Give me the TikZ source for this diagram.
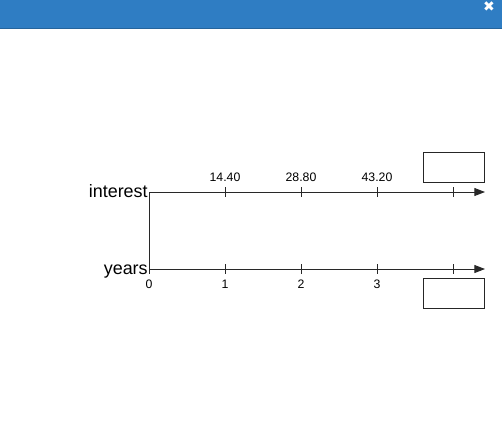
\documentclass[tikz,border=0pt]{standalone}
\usepackage{fontspec}
\setmainfont{Liberation Sans}
\newfontfamily\symfont{DejaVu Sans}
\usetikzlibrary{positioning,arrows.meta}

\definecolor{barblue}{RGB}{47,125,195}
\definecolor{axisgray}{RGB}{40,40,40}

\tikzset{
  axisline/.style={draw=axisgray, line width=0.55pt},
  tickmark/.style={draw=axisgray, line width=0.55pt},
  ticklabel/.style={font=\fontsize{7}{8}\selectfont, inner sep=0pt, anchor=base},
  axislabel/.style={font=\fontsize{10.2}{12}\selectfont, inner sep=0pt, anchor=base east},
  valuebox/.style={draw=black!85, line width=0.5pt, minimum width=1.22cm, minimum height=0.6cm, inner sep=0pt}
}

\begin{document}
\begin{tikzpicture}[x=0.02cm,y=-0.02cm]
      \useasboundingbox (0,0) rectangle (502,423);
      % title bar
      \fill[barblue] (0,0) rectangle (502,28);
      \draw[barblue!80!black, line width=0.5pt] (0,28) -- (502,28);
      \node[text=white, font=\symfont\bfseries\fontsize{8}{8}\selectfont, inner sep=0pt] (close) at (489,7) {✖};
      % axes
      \coordinate (iorig) at (149,192);
      \coordinate (iend) at (485,192);
      \coordinate (yorig) at (149,269);
      \coordinate (yend) at (485,269);
      \draw[axisline, -{Triangle[length=6pt,width=4.5pt]}] (iorig) -- (iend);
      \draw[axisline, -{Triangle[length=6pt,width=4.5pt]}] (yorig) -- (yend);
      \draw[axisline] (iorig) -- (yorig);
      \node[axislabel] (interest) at (148,197) {interest};
      \node[axislabel] (years) at (148,274) {years};
      % ticks
      \foreach \i in {1,...,4}
        {
          \draw[tickmark] (149+76*\i,187) -- (149+76*\i,197);
          \draw[tickmark] (149+76*\i,264) -- (149+76*\i,274);
        }
      \draw[tickmark] (149,269) -- (149,274);
      \foreach \i/\v in {1/14.40,2/28.80,3/43.20}
        \node[ticklabel] (val\i) at (149+76*\i,181) {\v};
      \foreach \i in {0,...,3}
        \node[ticklabel] (yr\i) at (149+76*\i,288) {\i};
      % answer boxes
      \node[valuebox] (topbox) at (453.5,167) {};
      \node[valuebox] (botbox) at (453.5,293) {};
    \end{tikzpicture}
\end{document}
